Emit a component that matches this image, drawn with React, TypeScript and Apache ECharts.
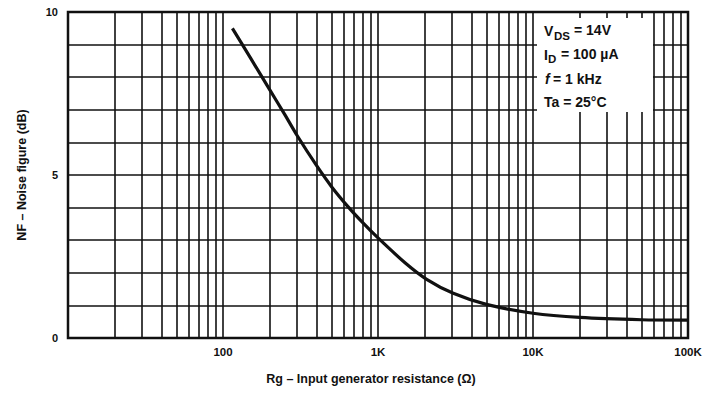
import React, { useEffect, useRef } from "react";
import * as echarts from "echarts";

const resistance = [115, 150, 200, 250, 300, 400, 500, 640, 800, 1000, 1500, 2060, 3060, 5000, 10000, 20000, 50000, 100000];
const noiseFigure = [9.5, 8.6, 7.62, 6.86, 6.22, 5.3, 4.65, 4.03, 3.53, 3.07, 2.3, 1.8, 1.37, 1.03, 0.76, 0.63, 0.56, 0.55];
const minorGrid = [
  20, 30, 40, 50, 60, 70, 80, 90,
  200, 300, 400, 500, 600, 700, 800, 900,
  2000, 3000, 4000, 5000, 6000, 7000, 8000, 9000,
  20000, 30000, 40000, 50000, 60000, 70000, 80000, 90000,
];
const majorGrid = [100, 1000, 10000];
const xTickLabels: Record<number, string> = { 10: "", 100: "100", 1000: "1K", 10000: "10K", 100000: "100K" };
const yTickLabels = [0, 5, 10];

const FONT = "'Liberation Sans', Arial, sans-serif";

export default function App() {
  const ref = useRef<HTMLDivElement>(null);
  useEffect(() => {
    if (!ref.current) return;
    const chart = echarts.init(ref.current, null, { renderer: "svg" });
    const tx = 544;
    const textStyle = (text: string, x: number, y: number, size = 14, italic = false) => ({
      type: "text",
      x,
      y,
      z: 110,
      style: { text, fill: "#111", font: `${italic ? "italic " : ""}bold ${size}px ${FONT}`, textVerticalAlign: "middle" },
    });
    chart.setOption({
      animation: false,
      backgroundColor: "#fff",
      grid: { left: 68, right: 26, top: 12, bottom: 64, show: true, borderColor: "#111", borderWidth: 2.5, backgroundColor: "transparent" },
      xAxis: {
        type: "log",
        logBase: 10,
        min: 10,
        max: 100000,
        name: "Rg – Input generator resistance (Ω)",
        nameLocation: "middle",
        nameGap: 34,
        nameTextStyle: { color: "#111", fontFamily: FONT, fontWeight: "bold", fontSize: 12.5, padding: [0, 14, 0, 0] },
        axisLine: { show: false },
        axisTick: { show: false },
        axisLabel: {
          color: "#111",
          fontFamily: FONT,
          fontWeight: "bold",
          fontSize: 11.5,
          margin: 8,
          formatter: (v: number) => xTickLabels[Math.round(v)] ?? "",
        },
        splitLine: { show: false },
      },
      yAxis: {
        type: "value",
        min: 0,
        max: 10,
        interval: 1,
        name: "NF – Noise figure (dB)",
        nameLocation: "middle",
        nameGap: 40,
        nameRotate: 90,
        nameTextStyle: { color: "#111", fontFamily: FONT, fontWeight: "bold", fontSize: 12.5 },
        axisLine: { show: false },
        axisTick: { show: false },
        axisLabel: {
          color: "#111",
          fontFamily: FONT,
          fontWeight: "bold",
          fontSize: 11,
          margin: 10,
          formatter: (v: number) => (yTickLabels.includes(v) ? String(v) : ""),
        },
        splitLine: { show: true, lineStyle: { color: "#111", width: 1.6 } },
      },
      graphic: [
        { type: "rect", shape: { x: 537, y: 18, width: 116, height: 94 }, z: 100, style: { fill: "#fff" } },
        textStyle("V", tx, 31),
        textStyle("DS", tx + 10, 36, 11.5),
        textStyle("= 14V", tx + 30, 30),
        textStyle("I", tx, 55),
        textStyle("D", tx + 4, 59, 11.5),
        textStyle("= 100 µA", tx + 17, 54),
        textStyle("f", tx + 1, 79, 14, true),
        textStyle("= 1 kHz", tx + 9, 79),
        textStyle("Ta = 25°C", tx, 102),
      ],
      series: [
        {
          type: "line",
          data: [],
          silent: true,
          markLine: {
            silent: true,
            symbol: "none",
            label: { show: false },
            lineStyle: { color: "#111", width: 1.6, type: "solid" },
            data: [...minorGrid, ...majorGrid].map((v) => ({ xAxis: v })),
          },
        },
        {
          type: "line",
          data: resistance.map((r, i) => [r, noiseFigure[i]]),
          smooth: 0.25,
          showSymbol: false,
          lineStyle: { color: "#111", width: 3.2 },
          z: 5,
        },
      ],
    });
    return () => chart.dispose();
  }, []);
  return <div ref={ref} style={{ width: 714, height: 402, position: "absolute", left: 0, top: 0 }} />;
}
